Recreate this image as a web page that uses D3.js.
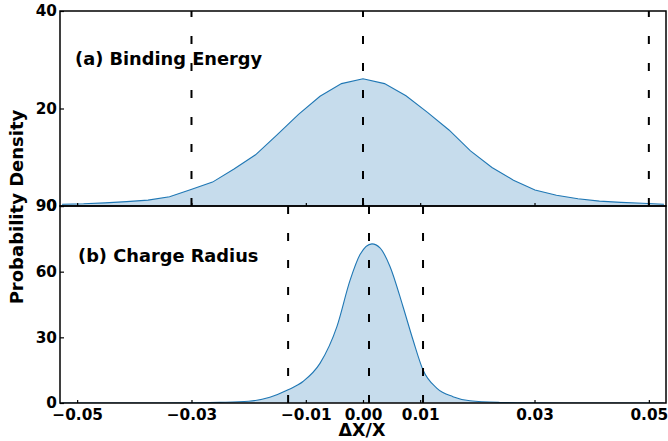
<!DOCTYPE html>
<html>
<head>
<meta charset="utf-8">
<script src="https://cdn.jsdelivr.net/npm/d3@7"></script>
<style>
  body { margin: 0; background: #fff; }
  svg { display: block; font-family: "DejaVu Sans", sans-serif; font-weight: bold; }
</style>
</head>
<body>
<svg id="chart" width="668" height="441"></svg>
<script>
// ---- data ----
const bindingX = [-0.05264,-0.04888,-0.04512,-0.04136,-0.0376,-0.03384,-0.03008,-0.02632,-0.02256,-0.0188,-0.01504,-0.01128,-0.00752,-0.00376,0,0.00376,0.00752,0.01128,0.01504,0.0188,0.02256,0.02632,0.03008,0.03384,0.0376,0.04136,0.04512,0.04888,0.05264];
const bindingY = [0.35,0.45,0.65,0.9,1.2,1.9,3.4,4.9,7.6,10.5,14.6,18.8,22.5,25.1,26.1,25.1,22.6,19.2,15.6,11.3,7.9,5.3,3.3,2.2,1.5,1.0,0.75,0.55,0.35];
const radiusX = [-0.0526,-0.035,-0.030,-0.025,-0.020,-0.0163,-0.0131,-0.0105,-0.0075,-0.00455,-0.00227,-0.00052,0.00157,0.00297,0.00472,0.00699,0.00874,0.0105,0.01294,0.01573,0.01871,0.02395,0.0292,0.035,0.0526];
const radiusY = [0,0.02,0.1,0.3,0.8,2.6,6.0,9.8,18.2,35,56,67.8,72.7,70.9,62.4,44.1,28.9,15.1,6.7,2.9,1.0,0.25,0.05,0,0];
const bindingLines = [-0.03, 0.0, 0.05];
const radiusLines = [-0.0131, 0.00105, 0.0105];
const xTicks = [-0.05, -0.03, -0.01, 0.0, 0.01, 0.03, 0.05];
const xTickLabels = ["\u22120.05", "\u22120.03", "\u22120.01", "0.00", "0.01", "0.03", "0.05"];
const bindingYTicks = [0, 20, 40];
const radiusYTicks = [0, 30, 60, 90];
const panelLabels = ["(a) Binding Energy", "(b) Charge Radius"];

// ---- layout ----
const svg = d3.select("#chart");
const L = 60, R = 666, T1 = 11, B1 = 206, T2 = 206, B2 = 403;
const x = d3.scaleLinear().domain([-0.053, 0.053]).range([L, R]);
const y1 = d3.scaleLinear().domain([0, 40]).range([B1, T1]);
const y2 = d3.scaleLinear().domain([0, 90]).range([B2, T2]);
const fillCol = "#c6dcec", lineCol = "#1f77b4";

function panel(xs, ys, yScale, top, bottom, lines, yTicks, label, labelX, labelY, showXLabels, clipId, dashFromBottom, curve) {
  const g = svg.append("g");
  g.append("clipPath").attr("id", clipId).append("rect")
    .attr("x", L).attr("y", top).attr("width", R - L).attr("height", bottom - top);
  const pts = xs.map((v, i) => [v, ys[i]]);
  const body = g.append("g").attr("clip-path", `url(#${clipId})`);
  body.append("path").datum(pts)
    .attr("d", d3.area().x(d => x(d[0])).y0(yScale(0)).y1(d => yScale(d[1])).curve(curve))
    .attr("fill", fillCol);
  body.append("path").datum(pts)
    .attr("d", d3.line().x(d => x(d[0])).y(d => yScale(d[1])).curve(curve))
    .attr("fill", "none").attr("stroke", lineCol).attr("stroke-width", 1.1);
  body.selectAll("line.dash").data(lines).enter().append("line")
    .attr("x1", d => x(d)).attr("x2", d => x(d))
    .attr("y1", dashFromBottom ? bottom : top).attr("y2", dashFromBottom ? top : bottom)
    .attr("stroke", "#000").attr("stroke-width", 2).attr("stroke-dasharray", "8,19");

  // x axis (ticks inward)
  const xa = d3.axisBottom(x).tickValues(xTicks).tickSize(-3).tickPadding(6)
    .tickFormat((d, i) => showXLabels ? xTickLabels[i] : "");
  const gx = g.append("g").attr("transform", `translate(0,${bottom})`).call(xa);
  gx.select(".domain").remove();
  gx.selectAll("line").attr("stroke-width", 1.2);
  gx.selectAll("text").attr("font-size", 15.3).attr("font-family", "DejaVu Sans").attr("font-weight", "bold").attr("fill", "#000");

  const ya = d3.axisLeft(yScale).tickValues(yTicks).tickSize(-4).tickPadding(3).tickFormat(d3.format("d"));
  const gy = g.append("g").attr("transform", `translate(${L},0)`).call(ya);
  gy.select(".domain").remove();
  gy.selectAll("line").attr("stroke-width", 1.2);
  gy.selectAll("text").attr("font-size", 15.3).attr("font-family", "DejaVu Sans").attr("font-weight", "bold").attr("fill", "#000");

  g.append("rect").attr("x", L).attr("y", top).attr("width", R - L).attr("height", bottom - top)
    .attr("fill", "none").attr("stroke", "#000").attr("stroke-width", 1.5);

  g.append("text").attr("x", labelX).attr("y", labelY)
    .attr("font-size", 17.8).attr("fill", "#000").text(label);
}

panel(bindingX, bindingY, y1, T1, B1, bindingLines, bindingYTicks, panelLabels[0], 75, 65, false, "c1", true, d3.curveLinear);
panel(radiusX, radiusY, y2, T2, B2, radiusLines, radiusYTicks, panelLabels[1], 78, 262, true, "c2", false, d3.curveMonotoneX);

svg.append("text").attr("transform", "translate(23,207) rotate(-90)")
  .attr("text-anchor", "middle").attr("font-size", 18).attr("fill", "#000").text("Probability Density");
svg.append("text").attr("x", 362).attr("y", 436)
  .attr("text-anchor", "middle").attr("font-size", 17.5).attr("fill", "#000").text("\u0394X/X");
</script>
</body>
</html>
